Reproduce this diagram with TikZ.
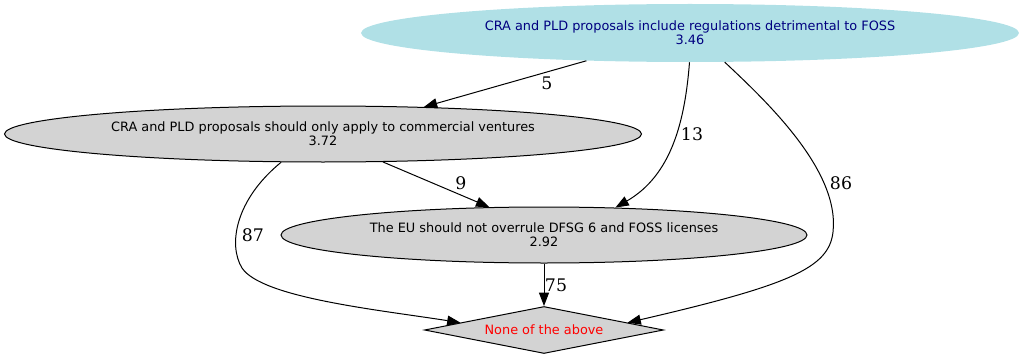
\documentclass[tikz,border=0pt]{standalone}
\usepackage{fontspec}
\setmainfont{DejaVu Sans}
\newfontfamily\edgefont{DejaVu Serif}
\usetikzlibrary{shapes.geometric,arrows.meta}
\definecolor{powder}{HTML}{B0E0E6}
\definecolor{lgray}{HTML}{D3D3D3}
\definecolor{navyc}{HTML}{000080}
\begin{document}
\begin{tikzpicture}[x=0.75pt,y=-0.75pt,
  nodetext/.style={font=\fontsize{9.65pt}{10.6pt}\selectfont,align=center,inner sep=0pt},
  ell/.style={ellipse,nodetext,fill=lgray,draw=black,line width=0.75pt},
  edge/.style={line width=0.75pt,-{Triangle[length=10pt,width=7.5pt]}},
  elabel/.style={font=\edgefont\fontsize{13pt}{14pt}\selectfont,inner sep=0pt}]
\useasboundingbox (0,0) rectangle (1024,360);
\node[ellipse,nodetext,fill=powder,text=navyc,minimum width=493.5pt,minimum height=43.5pt] (A) at (690,33)
  {CRA and PLD proposals include regulations detrimental to FOSS\\3.46};
\node[ell,minimum width=477.75pt,minimum height=42pt] (B) at (323,134)
  {CRA and PLD proposals should only apply to commercial ventures\\3.72};
\node[ell,minimum width=394.5pt,minimum height=42pt] (C) at (544,235)
  {The EU should not overrule DFSG 6 and FOSS licenses\\2.92};
\node[diamond,aspect=5.085,nodetext,fill=lgray,draw=black,line width=0.75pt,text=red,minimum width=179.25pt,minimum height=35.25pt] (D) at (544,330)
  {None of the above};
\draw[edge] (A.195.6) -- (B.15.4);
\node[elabel] (l5) at (547,83) {5};
\draw[edge] (A.269) .. controls (685,120) and (672,175) .. (C.21.7);
\node[elabel] (l13) at (692,134) {13};
\draw[edge] (A.320.5) .. controls (765,100) and (840,170) .. (833,232)
  .. controls (829,268) and (790,285) .. (D.5);
\node[elabel] (l86) at (841,183) {86};
\draw[edge] (B.335.4) -- (C.153.9);
\node[elabel] (l9) at (461,183) {9};
\draw[edge] (B.214.1) .. controls (235,200) and (228,245) .. (242,268)
  .. controls (262,298) and (380,310) .. (D.175);
\node[elabel] (l87) at (253,235) {87};
\draw[edge] (C.south) -- (D.north);
\node[elabel] (l75) at (556,285) {75};
\end{tikzpicture}
\end{document}
